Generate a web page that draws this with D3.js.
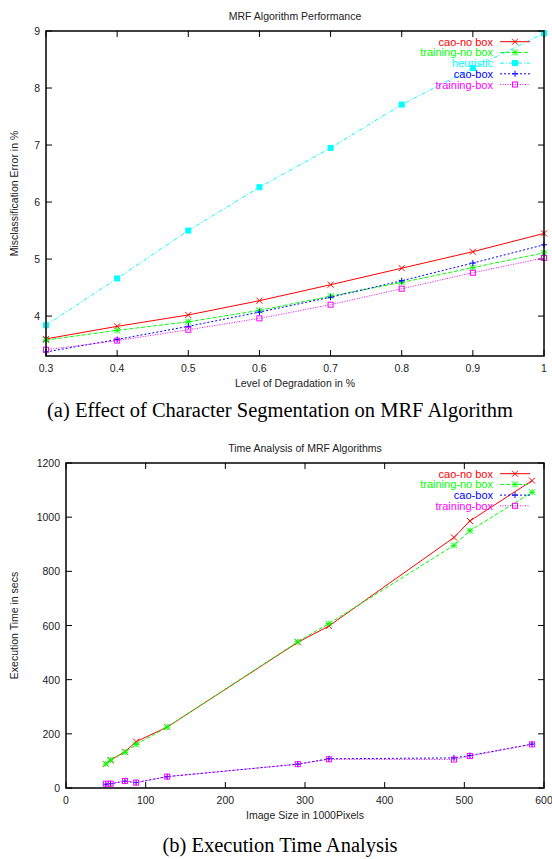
<!DOCTYPE html>
<html lang="en">
<head>
<meta charset="UTF-8" />
<title>MRF charts</title>
<style>
  body { margin: 0; background: #fff; }
  text { font-family: "Liberation Sans", Arial, sans-serif; }
</style>
</head>
<body>
<svg width="552" height="859" id="svg"></svg>
<script src="https://cdn.jsdelivr.net/npm/d3@7"></script>
<script>
// ---- chart (a) data ----
const degradation = [0.3, 0.4, 0.5, 0.6, 0.7, 0.8, 0.9, 1.0]
const caoNoBox = [3.60, 3.82, 4.02, 4.27, 4.55, 4.84, 5.13, 5.45]
const trainingNoBox = [3.58, 3.75, 3.90, 4.10, 4.35, 4.59, 4.85, 5.11]
const heuristic = [3.84, 4.66, 5.50, 6.26, 6.95, 7.71, 8.35, 8.96]
const caoBox = [3.37, 3.59, 3.82, 4.07, 4.33, 4.62, 4.93, 5.25]
const trainingBox = [3.41, 3.57, 3.76, 3.96, 4.20, 4.48, 4.76, 5.02]
const degradationTicks = [0.3, 0.4, 0.5, 0.6, 0.7, 0.8, 0.9, 1]
const errorTicks = [4, 5, 6, 7, 8, 9]

// ---- chart (b) data ----
const imageSize = [50, 56, 74, 88, 127, 291, 330, 487, 507, 585]
const timeCaoNoBox = [89, 103, 134, 171, 225, 538, 598, 925, 986, 1135]
const timeTrainingNoBox = [89, 103, 132, 161, 225, 540, 607, 896, 950, 1092]
const timeCaoBox = [14, 16, 25, 20, 42, 88, 108, 111, 120, 162]
const timeTrainingBox = [16, 16, 26, 20, 42, 88, 106, 105, 118, 161]
const sizeTicks = [0, 100, 200, 300, 400, 500, 600]
const timeTicks = [0, 200, 400, 600, 800, 1000, 1200]

// gnuplot-ish styles
const styles = {
  "cao-no box": { color: "#ff0000", dash: null, mark: "x" },
  "training-no box": { color: "#00ff00", dash: "4,2", mark: "star" },
  "heuristic": { color: "#00ffff", dash: "4,2,1,2", mark: "fsquare" },
  "cao-box": { color: "#0000ff", dash: "2,2", mark: "plus" },
  "training-box": { color: "#ff00ff", dash: "1,1.5", mark: "square" },
}

const svg = d3.select("#svg")
svg.append("rect").attr("width", 552).attr("height", 859).attr("fill", "#fff")

function drawMark(g, type, x, y, color) {
  const s = 3
  if (type === "x" || type === "star") {
    g.append("path").attr("d", `M${x - s},${y - s}L${x + s},${y + s}M${x - s},${y + s}L${x + s},${y - s}`)
      .attr("stroke", color).attr("fill", "none")
  }
  if (type === "plus" || type === "star") {
    g.append("path").attr("d", `M${x - s},${y}L${x + s},${y}M${x},${y - s}L${x},${y + s}`)
      .attr("stroke", color).attr("fill", "none")
  }
  if (type === "square" || type === "fsquare") {
    g.append("rect").attr("x", x - s + 0.5).attr("y", y - s + 0.5)
      .attr("width", 2 * s - 1).attr("height", 2 * s - 1)
      .attr("stroke", color).attr("fill", type === "fsquare" ? color : "none")
  }
}

function drawChart(opt) {
  const { left, right, top, bottom } = opt
  const x = d3.scaleLinear().domain(opt.xDomain).range([left, right])
  const y = d3.scaleLinear().domain(opt.yDomain).range([bottom, top])
  const g = svg.append("g")

  // ticks, mirrored and pointing inward
  const tl = 6
  opt.xTicks.forEach((t) => {
    g.append("line").attr("x1", x(t)).attr("x2", x(t)).attr("y1", bottom).attr("y2", bottom - tl).attr("stroke", "#000")
    g.append("line").attr("x1", x(t)).attr("x2", x(t)).attr("y1", top).attr("y2", top + tl).attr("stroke", "#000")
    g.append("text").attr("x", x(t)).attr("y", bottom + 16).attr("text-anchor", "middle")
      .attr("font-size", 10.5).attr("fill", "#222").text(t)
  })
  opt.yTicks.forEach((t) => {
    g.append("line").attr("x1", left).attr("x2", left + tl).attr("y1", y(t)).attr("y2", y(t)).attr("stroke", "#000")
    g.append("line").attr("x1", right).attr("x2", right - tl).attr("y1", y(t)).attr("y2", y(t)).attr("stroke", "#000")
    g.append("text").attr("x", left - 6).attr("y", y(t) + 4).attr("text-anchor", "end")
      .attr("font-size", 10.5).attr("fill", "#222").text(t)
  })

  // series
  const line = d3.line().x((d) => x(d[0])).y((d) => y(d[1]))
  opt.series.forEach((s) => {
    const st = styles[s.name]
    const pts = opt.xs.map((v, i) => [v, s.values[i]])
    g.append("path").datum(pts).attr("d", line).attr("fill", "none")
      .attr("stroke", st.color).attr("stroke-width", 1).attr("stroke-dasharray", st.dash)
    pts.forEach((p) => drawMark(g, st.mark, x(p[0]), y(p[1]), st.color))
  })

  // frame
  g.append("rect").attr("x", left).attr("y", top).attr("width", right - left).attr("height", bottom - top)
    .attr("fill", "none").attr("stroke", "#000").attr("stroke-width", 1.5)

  // legend
  opt.series.forEach((s, i) => {
    const st = styles[s.name]
    const ly = top + 10.7 + i * 10.7
    g.append("text").attr("x", 493).attr("y", ly + 4).attr("text-anchor", "end")
      .attr("font-size", 11).attr("fill", st.color).text(s.name)
    g.append("line").attr("x1", 500).attr("x2", 530).attr("y1", ly).attr("y2", ly)
      .attr("stroke", st.color).attr("stroke-dasharray", st.dash)
    drawMark(g, st.mark, 515, ly, st.color)
  })

  // titles
  const cx = (left + right) / 2
  g.append("text").attr("x", cx).attr("y", top - 11).attr("text-anchor", "middle")
    .attr("font-size", 10.5).attr("fill", "#222").text(opt.title)
  g.append("text").attr("x", cx).attr("y", bottom + 31).attr("text-anchor", "middle")
    .attr("font-size", 10.5).attr("fill", "#222").text(opt.xLabel)
  g.append("text").attr("transform", `translate(18,${(top + bottom) / 2}) rotate(-90)`)
    .attr("text-anchor", "middle").attr("font-size", 10.5).attr("fill", "#222").text(opt.yLabel)
  g.append("text").attr("x", 280).attr("y", opt.captionY).attr("text-anchor", "middle")
    .attr("font-size", 20.5).attr("fill", "#000").style("font-family", "'Liberation Serif', 'Times New Roman', serif")
    .text(opt.caption)
}

drawChart({
  left: 46, right: 544, top: 31, bottom: 356,
  xDomain: [0.3, 1], yDomain: [3.3, 9],
  xTicks: degradationTicks, yTicks: errorTicks, xs: degradation,
  series: [
    { name: "cao-no box", values: caoNoBox },
    { name: "training-no box", values: trainingNoBox },
    { name: "heuristic", values: heuristic },
    { name: "cao-box", values: caoBox },
    { name: "training-box", values: trainingBox },
  ],
  title: "MRF Algorithm Performance",
  xLabel: "Level of Degradation in %",
  yLabel: "Misclassification Error in %",
  caption: "(a) Effect of Character Segmentation on MRF Algorithm",
  captionY: 417,
})

drawChart({
  left: 66, right: 544, top: 463, bottom: 788,
  xDomain: [0, 600], yDomain: [0, 1200],
  xTicks: sizeTicks, yTicks: timeTicks, xs: imageSize,
  series: [
    { name: "cao-no box", values: timeCaoNoBox },
    { name: "training-no box", values: timeTrainingNoBox },
    { name: "cao-box", values: timeCaoBox },
    { name: "training-box", values: timeTrainingBox },
  ],
  title: "Time Analysis of MRF Algorithms",
  xLabel: "Image Size in 1000Pixels",
  yLabel: "Execution Time in secs",
  caption: "(b) Execution Time Analysis",
  captionY: 852,
})
</script>
</body>
</html>
